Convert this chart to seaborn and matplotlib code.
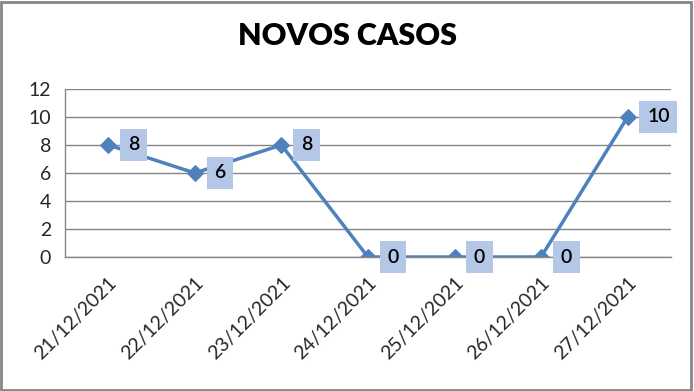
import matplotlib
matplotlib.use('Agg')
import matplotlib.pyplot as plt
import seaborn as sns
import pandas as pd
from matplotlib.patches import Rectangle

# Dados do gráfico
datas = ['21/12/2021', '22/12/2021', '23/12/2021', '24/12/2021',
         '25/12/2021', '26/12/2021', '27/12/2021']
casos = [8, 6, 8, 0, 0, 0, 10]

df = pd.DataFrame({'pos': range(len(datas)), 'casos': casos})

sns.set_style('white')
plt.rcParams['font.family'] = ['Lato', 'DejaVu Sans']

fig = plt.figure(figsize=(6.94, 3.91), dpi=100)
ax = fig.add_axes([0.0937, 0.3427, 0.873, 0.4297])

azul = '#4f81bd'
sns.lineplot(data=df, x='pos', y='casos', ax=ax, color=azul, linewidth=2.5,
             marker='D', markersize=8, markeredgecolor=azul)

ax.set_xlim(-0.5, len(datas) - 0.5)
ax.set_ylim(0, 12)
ax.set_yticks(range(0, 13, 2))
ax.yaxis.grid(True, color='#868686', linewidth=1)
ax.set_axisbelow(True)
ax.set_xlabel('')
ax.set_ylabel('')

# marcas entre categorias, estilo Excel
ax.set_xticks([i - 0.5 for i in range(len(datas) + 1)], minor=False)
ax.set_xticklabels([])
ax.set_xticks(range(len(datas)), minor=True)
ax.set_xticklabels(datas, minor=True, rotation=45, ha='right',
                   rotation_mode='anchor', fontsize=14)
ax.tick_params(axis='x', which='major', length=6, color='#868686', direction='out')
ax.tick_params(axis='x', which='minor', length=0, pad=12)
ax.tick_params(axis='y', length=5, color='#868686', labelsize=14, pad=5)

for s in ['top', 'right']:
    ax.spines[s].set_visible(False)
for s in ['left', 'bottom']:
    ax.spines[s].set_color('#868686')
    ax.spines[s].set_linewidth(1)

# rótulos de dados
for i, v in enumerate(casos):
    ax.annotate(str(v), (i, v), xytext=(14, 0), textcoords='offset points',
                ha='left', va='center', fontsize=14, color='black',
                fontweight='semibold',
                bbox=dict(boxstyle='square,pad=0.4', facecolor='#b4c7e7',
                          edgecolor='none'),
                annotation_clip=False, zorder=5)

fig.suptitle('NOVOS CASOS', y=0.945, fontsize=22, fontweight='heavy', color='black')

fig.patches.append(Rectangle((0.002, 0.003), 0.994, 0.993, transform=fig.transFigure,
                             fill=False, edgecolor='#868686', linewidth=2))

fig.savefig('out.png', dpi=100)
